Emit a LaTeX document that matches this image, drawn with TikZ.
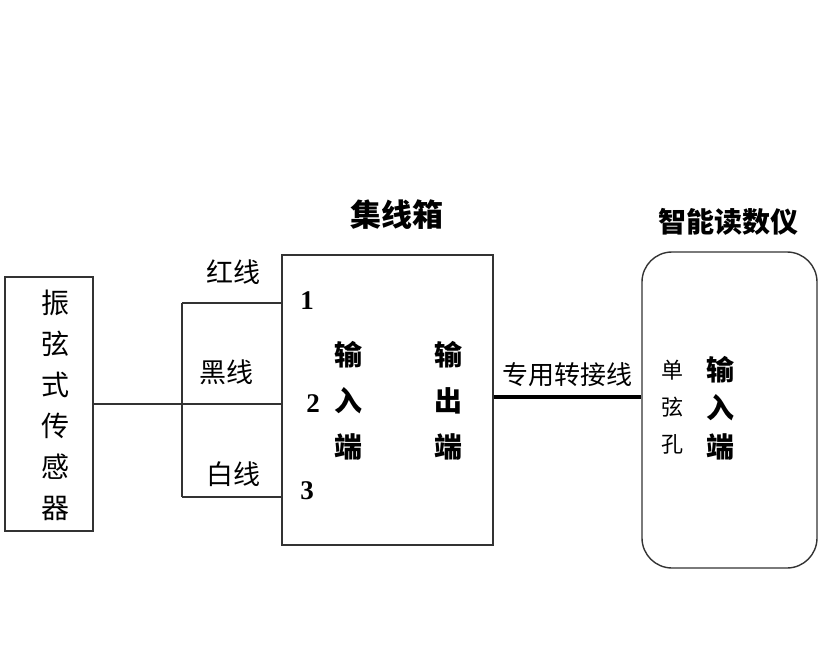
\documentclass[tikz,border=0pt]{standalone}
\usepackage{fontspec}
\newfontfamily\cjk{Noto Sans CJK SC}
\newfontfamily\numf{Liberation Serif}
\begin{document}
\begin{tikzpicture}[x=1pt,y=-1pt,
  thinline/.style={line width=1.4pt, draw=black!80},
  thickline/.style={line width=3.5pt},
  box/.style={thinline, rectangle, inner sep=0pt},
  vtext/.style={align=center, inner sep=0pt},
  lbl/.style={inner sep=0pt, font=\cjk\fontsize{27}{30}\selectfont},
  title/.style={inner sep=0pt, font=\cjk\bfseries\fontsize{28}{30}\selectfont},
  num/.style={inner sep=0pt, font=\numf\bfseries\fontsize{27}{30}\selectfont}]
\useasboundingbox (0,0) rectangle (822,667);
% sensor
\node[box, minimum width=88pt, minimum height=254pt] (sensor) at (49,404) {};
\node[vtext, font=\cjk\fontsize{28}{41}\selectfont] (sensortxt) at (55,405) {振\\弦\\式\\传\\感\\器};
% junction box
\node[box, minimum width=211pt, minimum height=290pt] (jbox) at (387.5,400) {};
\node[title, font=\cjk\bfseries\fontsize{31}{32}\selectfont] (jtitle) at (397,215) {集线箱};
\node[num] (n1) at (307,301) {1};
\node[num] (n2) at (313,404) {2};
\node[num] (n3) at (307,491) {3};
\node[vtext, font=\cjk\bfseries\fontsize{28}{46}\selectfont] (inport) at (348,401) {输\\入\\端};
\node[vtext, font=\cjk\bfseries\fontsize{28}{46}\selectfont] (outport) at (448,401) {输\\出\\端};
% reader
\node[box, rounded corners=30pt, minimum width=175pt, minimum height=316pt] (reader) at (729.5,410) {};
\node[title] (rtitle) at (728,222) {智能读数仪};
\node[vtext, font=\cjk\fontsize{22}{37}\selectfont] (hole) at (672,407) {单\\弦\\孔};
\node[vtext, font=\cjk\bfseries\fontsize{28}{38.5}\selectfont] (rin) at (720,408) {输\\入\\端};
% wires
\coordinate (j) at (182,404);
\coordinate (r1) at (182,303);
\coordinate (r3) at (182,497);
\draw[thinline] (sensor.east |- j) -- (j);
\draw[thinline] (r1) -- (r3);
\draw[thinline] (r1) -- (r1 -| jbox.west);
\draw[thinline] (j) -- (j -| jbox.west);
\draw[thinline] (r3) -- (r3 -| jbox.west);
\node[lbl] (red) at (233,272) {红线};
\node[lbl] (black) at (226,372) {黑线};
\node[lbl] (white) at (233,474) {白线};
\coordinate (c1) at (0,397);
\draw[thickline] (jbox.east |- c1) -- (reader.west |- c1);
\node[lbl, font=\cjk\fontsize{26}{30}\selectfont] (cable) at (567,375) {专用转接线};
\end{tikzpicture}
\end{document}
